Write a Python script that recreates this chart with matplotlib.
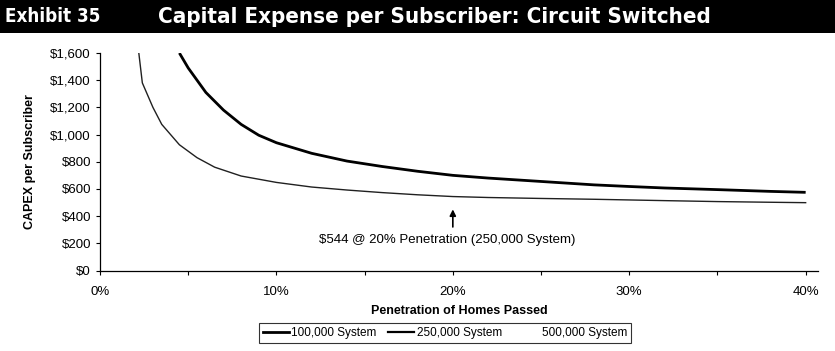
import matplotlib.pyplot as plt
from matplotlib.lines import Line2D
from matplotlib.patches import Rectangle
from matplotlib.ticker import FuncFormatter, MultipleLocator

plt.rcParams['font.family'] = ['Liberation Sans', 'DejaVu Sans']

# penetration (% of homes passed) and capex per subscriber ($)
pen_100k = [4.5, 5, 5.5, 6, 7, 8, 9, 10, 12, 14, 16, 18, 20, 22, 25, 28, 30, 32, 35, 38, 40]
capex_100k = [1600, 1490, 1400, 1310, 1180, 1075, 995, 940, 862, 805, 765, 730, 700, 680,
              655, 630, 618, 607, 595, 582, 575]

pen_250k = [2.2, 2.4, 3.0, 3.5, 4.5, 5.5, 6.5, 8, 10, 12, 14, 16, 18, 20, 22, 25, 28, 30,
            32, 35, 38, 40]
capex_250k = [1600, 1380, 1200, 1075, 925, 830, 760, 695, 648, 614, 592, 573, 557, 544,
              537, 530, 524, 519, 514, 507, 502, 499]

series_labels = ['100,000 System', '250,000 System', '500,000 System']
note_pen = 20
note_value = 544

fig = plt.figure(figsize=(8.35, 3.51), dpi=100)

# black header band
fig.patches.append(Rectangle((0, 1 - 33 / 351), 1, 33 / 351, transform=fig.transFigure,
                             facecolor='black', edgecolor='none', zorder=0))
head_font = dict(color='white', fontweight='bold', family='DejaVu Sans',
                 fontstretch='condensed', va='center')
fig.text(5 / 835, 1 - 17 / 351, 'Exhibit 35', ha='left', fontsize=13.5, **head_font)
fig.text(434 / 835, 1 - 17 / 351, 'Capital Expense per Subscriber: Circuit Switched',
         ha='center', fontsize=16, **head_font)

ax = fig.add_axes([100 / 835, 1 - 270.5 / 351, 718 / 835, 217.5 / 351])

ax.plot(pen_100k, capex_100k, color='black', lw=2.0, label=series_labels[0],
        solid_capstyle='butt')
ax.plot(pen_250k, capex_250k, color='#202020', lw=1.0, label=series_labels[1])

ax.set_xlim(0, 40.7)
ax.set_ylim(0, 1600)

ax.xaxis.set_major_locator(MultipleLocator(5))
ax.xaxis.set_major_formatter(FuncFormatter(lambda v, p: f'{v:.0f}%' if round(v) % 10 == 0 else ''))
ax.yaxis.set_major_locator(MultipleLocator(200))
ax.yaxis.set_major_formatter(FuncFormatter(lambda v, p: f'${v:,.0f}'))
ax.tick_params(axis='both', length=3, width=0.8, color='black')
ax.tick_params(axis='x', labelsize=9.5, pad=8)
ax.tick_params(axis='y', labelsize=9.5)

for side in ['top', 'right']:
    ax.spines[side].set_visible(False)
for side in ['left', 'bottom']:
    ax.spines[side].set_linewidth(0.9)

ax.set_ylabel('CAPEX per Subscriber', fontsize=9, fontweight='bold', labelpad=10)
ax.set_xlabel('Penetration of Homes Passed', fontsize=9, fontweight='bold', labelpad=5)

# call-out for the 250,000 system at 20%
ax.annotate('', xy=(note_pen, 470), xytext=(note_pen, 300),
            arrowprops=dict(arrowstyle='-|>', color='black', lw=1.2, mutation_scale=9))
ax.text(note_pen - 0.3, 225, f'${note_value} @ {note_pen}% Penetration (250,000 System)',
        fontsize=9.5, ha='center', va='center')

handles = [Line2D([], [], color='black', lw=2.0),
           Line2D([], [], color='black', lw=1.6),
           Line2D([], [], color='white', lw=1.6)]
leg = fig.legend(handles, series_labels, loc='center', bbox_to_anchor=(445 / 835, 1 - 333 / 351),
                 ncol=3, fontsize=8.5, frameon=True, fancybox=False, handlelength=2.2,
                 handletextpad=0.2, columnspacing=1.0, borderpad=0.3)
leg.get_frame().set_edgecolor('black')
leg.get_frame().set_linewidth(0.8)

fig.savefig('out.png', dpi=100)
